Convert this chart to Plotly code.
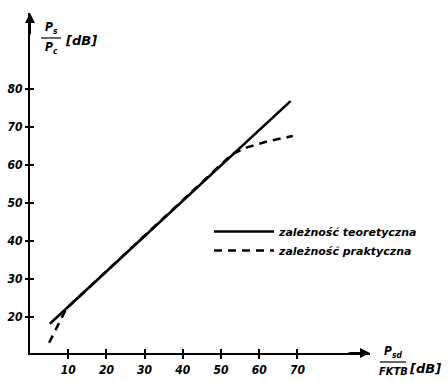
import plotly.graph_objects as go

# data
theory_x = [5.2, 68.2]
theory_y = [18.2, 76.8]
practical_x = [5.0, 9.5, 53.0, 57.0, 62.0, 68.8]
practical_y = [13.2, 22.2, 62.9, 64.7, 66.2, 67.6]
x_ticks = [10, 20, 30, 40, 50, 60, 70]
x_ticklabels = ["10", "20", "30", "40", "50", "60", "70"]
y_ticks = [20, 30, 40, 50, 60, 70, 80]
y_ticklabels = ["20", "30", "40", "50", "60", "70", "80"]
legend_names = ["zależność teoretyczna", "zależność praktyczna"]

FONT = "DejaVu Sans Condensed, DejaVu Sans, sans-serif"
WIDE = "DejaVu Sans, sans-serif"
XR = [0, 89]
YR = [10.5, 100]
L, T, B = 30, 13, 28
W_PLOT, H_PLOT = 340, 381 - T - B


def px(x):
    return (x - L) / W_PLOT


def py(y):
    return (381 - B - y) / H_PLOT


fig = go.Figure()
fig.add_trace(go.Scatter(x=theory_x, y=theory_y, mode="lines", name=legend_names[0],
                         line=dict(color="black", width=2.6)))
fig.add_trace(go.Scatter(x=practical_x, y=practical_y, mode="lines", name=legend_names[1],
                         line=dict(color="black", width=2.6, dash="8px,6px")))
# dummy trace on overlay axes to get crossing ticks
fig.add_trace(go.Scatter(x=[None], y=[None], xaxis="x2", yaxis="y2", showlegend=False,
                         hoverinfo="skip"))

tickfont = dict(family=FONT, size=12, color="black", style="italic", weight="bold")
fig.update_layout(
    width=448, height=381,
    margin=dict(l=L, r=448 - L - W_PLOT, t=T, b=B, autoexpand=False),
    paper_bgcolor="white", plot_bgcolor="white",
    showlegend=True,
    legend=dict(x=px(209), y=py(217), xanchor="left", yanchor="top",
                bgcolor="rgba(0,0,0,0)", itemwidth=60,
                font=dict(family=WIDE, size=11, color="black", style="italic",
                          weight="bold")),
    xaxis=dict(range=XR, showgrid=False, zeroline=False, showline=True, linecolor="black",
               linewidth=2, ticks="outside", ticklen=4, tickwidth=1.5, tickcolor="black",
               tickvals=x_ticks, ticktext=x_ticklabels, tickfont=tickfont,
               ticklabelstandoff=1, automargin=False),
    yaxis=dict(range=YR, showgrid=False, zeroline=False, showline=True, linecolor="black",
               linewidth=2, ticks="outside", ticklen=3, tickwidth=1.5, tickcolor="black",
               tickvals=y_ticks, ticktext=y_ticklabels, tickfont=tickfont,
               ticklabelstandoff=0, automargin=False),
    xaxis2=dict(range=XR, overlaying="x", anchor="y2", side="bottom", showgrid=False,
                zeroline=False, showline=False, ticks="inside", ticklen=4, tickwidth=1.5,
                tickcolor="black", tickvals=x_ticks, showticklabels=False, automargin=False),
    yaxis2=dict(range=YR, overlaying="y", anchor="x2", side="left", showgrid=False,
                zeroline=False, showline=False, ticks="inside", ticklen=4, tickwidth=1.5,
                tickcolor="black", tickvals=y_ticks, showticklabels=False, automargin=False),
)

# axis arrows
fig.add_annotation(x=XR[1], y=YR[0], ax=XR[1] - 6, ay=YR[0], xref="x", yref="y",
                   axref="x", ayref="y", showarrow=True, arrowhead=2, arrowsize=1,
                   arrowwidth=2, arrowcolor="black", text="")
fig.add_annotation(x=XR[0], y=YR[1], ax=XR[0], ay=YR[1] - 6, xref="x", yref="y",
                   axref="x", ayref="y", showarrow=True, arrowhead=2, arrowsize=1,
                   arrowwidth=2, arrowcolor="black", text="")


def label(x, y, text, xa="center", ya="middle", family=FONT, size=12):
    fig.add_annotation(xref="paper", yref="paper", x=px(x), y=py(y), xanchor=xa,
                       yanchor=ya, text=text, showarrow=False, borderpad=0,
                       font=dict(family=family, size=size, color="black",
                                 style="italic", weight="bold"))


# y axis title as a fraction
label(51, 37, "P<sub>s</sub>", ya="bottom")
fig.add_shape(type="line", xref="paper", yref="paper", x0=px(41), x1=px(61),
              y0=py(38), y1=py(38), line=dict(color="black", width=1.2))
label(51, 39, "P<sub>c</sub>", ya="top")
label(64, 40, "[dB]", xa="left", family=WIDE, size=13)
# x axis title as a fraction
label(393, 361, "P<sub>sd</sub>", ya="bottom")
fig.add_shape(type="line", xref="paper", yref="paper", x0=px(380), x1=px(406),
              y0=py(362), y1=py(362), line=dict(color="black", width=1.2))
label(393, 364, "FKTB", ya="top", size=11)
label(408, 368, "[dB]", xa="left", family=WIDE, size=13)

fig.write_html("out.html")
